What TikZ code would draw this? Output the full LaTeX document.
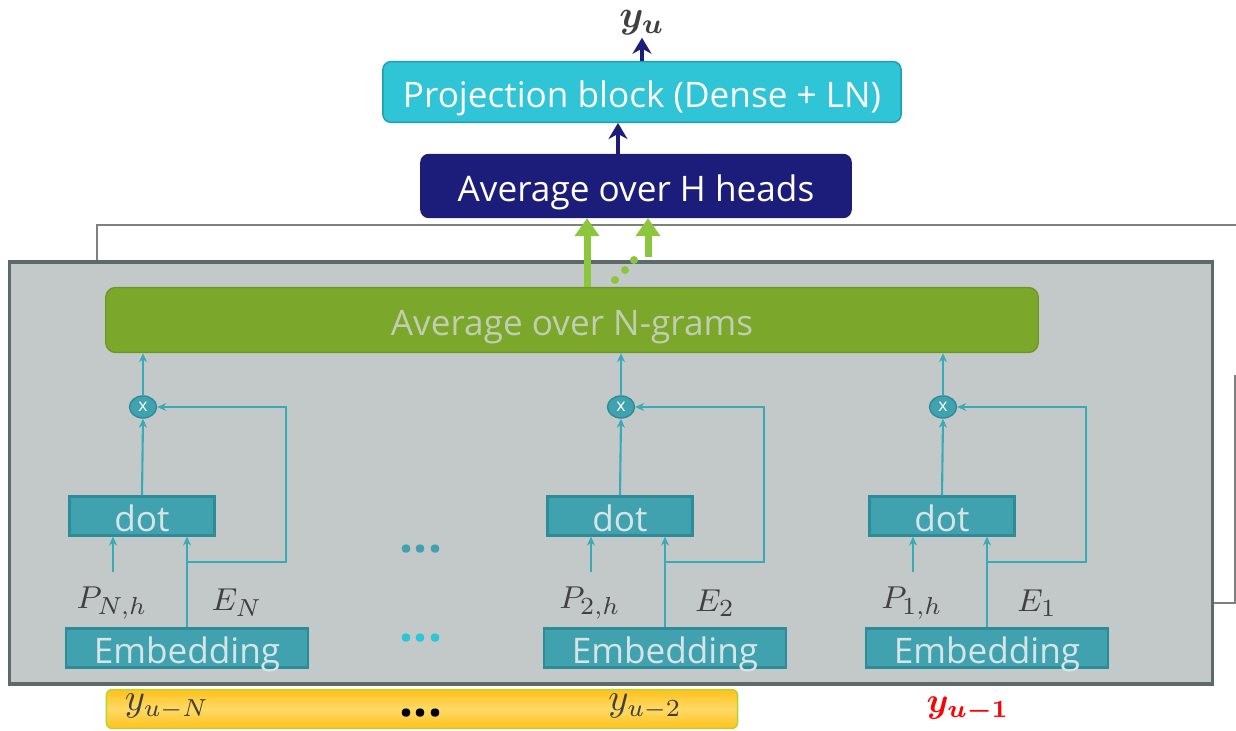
\documentclass[tikz,border=0pt]{standalone}
\usepackage{amsmath}
\usepackage{bm}
\usepackage{fontspec}
\setmainfont{Open Sans}
\usetikzlibrary{arrows.meta, positioning, shapes.geometric}
\definecolor{cPanel}{HTML}{C3C9C9}
\definecolor{cPanelD}{HTML}{5E6A6A}
\definecolor{cTeal}{HTML}{40A2AE}
\definecolor{cTealD}{HTML}{2E8C98}
\definecolor{cTealL}{HTML}{3AAAB8}
\definecolor{cTxt}{HTML}{D6E4E6}
\definecolor{cCyan}{HTML}{2FC4D6}
\definecolor{cCyanD}{HTML}{1E9FB0}
\definecolor{cNavy}{HTML}{1C1C7A}
\definecolor{cOlive}{HTML}{7BA72B}
\definecolor{cOliveT}{HTML}{C2CDB2}
\definecolor{cLime}{HTML}{8CC63C}
\definecolor{cMath}{HTML}{404040}
\definecolor{cGold}{HTML}{FFC21A}
\definecolor{cGoldL}{HTML}{FFD966}

\begin{document}
\begin{tikzpicture}[
  x=0.01cm, y=-0.01cm,
  txt/.style={font=\fontsize{10}{12}\selectfont, text height=9.6pt, text depth=1pt},
  blk/.style={txt, rounded corners=0.08cm, text=white},
  box/.style={txt, draw=cTealD, fill=cTeal, line width=0.6pt, text=cTxt, inner sep=0pt},
  dotbox/.style={box, minimum width=1.45cm, minimum height=0.39cm},
  embbox/.style={box, minimum width=2.41cm, minimum height=0.39cm},
  mul/.style={ellipse, draw=cTealD, fill=cTeal, minimum width=0.27cm, minimum height=0.22cm, inner sep=0pt, text=white, font=\fontsize{5}{5}\selectfont},
  tl/.style={cTealL, line width=0.6pt, -{Stealth[length=0.09cm, width=0.08cm]}},
  garr/.style={cLime, line width=0.07cm, -{Triangle[length=0.18cm, width=0.24cm]}},
  narr/.style={cNavy, line width=0.045cm, -{Stealth[length=0.16cm, width=0.19cm]}},
  lbl/.style={text=cMath, font=\fontsize{9.5}{12}\selectfont}
]
\useasboundingbox (0,0) rectangle (1236,731);

% stacked heads behind
\draw[gray, line width=0.6pt] (97,262) -- (97,225) -- (1236,225);
\draw[gray, line width=0.6pt] (1235,375) -- (1235,603) -- (1212,603);
\node[draw=cPanelD, fill=cPanel, line width=1pt, minimum width=12.02cm, minimum height=4.22cm] (panel) at (611,473) {};

\node[blk, draw=cCyanD, fill=cCyan, minimum width=5.18cm, minimum height=0.6cm] (proj) at (642,92) {Projection block (Dense + LN)};
\node[blk, draw=cNavy, fill=cNavy, minimum width=4.3cm, minimum height=0.63cm] (heads) at (636,186) {Average over H heads};
\node[text=cMath, inner sep=0.5pt, font=\fontsize{11}{12}\selectfont] (yu) at (642,23) {$\bm{y_u}$};
\node[blk, draw=cOlive!90!black, fill=cOlive, rounded corners=0.1cm, minimum width=9.32cm, minimum height=0.65cm, text=cOliveT] (ngram) at (572,320) {Average over N-grams};

\draw[narr] (proj.north) -- (yu.south);
\draw[narr] ([xshift=-0.18cm]heads.north) -- ([xshift=-0.18cm]heads.north |- proj.south);

% heads into the average
\draw[garr] ([xshift=0.15cm]ngram.north) -- ([xshift=0.15cm]ngram.north |- heads.south);
\coordinate (gt) at (648,257);
\draw[garr] (gt) -- (gt |- heads.south);
\foreach \gx/\gy in {615/280, 625/270, 634/260} \fill[cLime] (\gx,\gy) circle (0.04cm);

\foreach \c/\dx/\p in {N/0/{N,h}, 2/478/{2,h}, 1/800/{1,h}} {
  \node[mul] (mul\c) at (143+\dx,407) {x};
  \node[dotbox] (dot\c) at (142+\dx,516) {dot};
  \node[embbox] (emb\c) at (187+\dx,648) {Embedding};
  \node[lbl] (P\c) at (112+\dx,603) {$P_{\p}$};
  \node[lbl] (E\c) at (237+\dx,603) {$E_{\c}$};
  \coordinate (br\c) at (187+\dx,562);
  \coordinate (tn\c) at (286+\dx,407);
  \coordinate (pt\c) at (113+\dx,572);
  \draw[tl] (emb\c.north) -- (emb\c.north |- dot\c.south);
  \draw[tl] (br\c) -| (tn\c) -- (mul\c.east);
  \draw[tl] (pt\c) -- (pt\c |- dot\c.south);
  \draw[tl] (dot\c.north) -- (mul\c.south);
  \draw[tl] (mul\c.north) -- (mul\c.north |- ngram.south);
}
\node[anchor=base, text=cTeal, font=\bfseries\fontsize{14}{14}\selectfont] (gapA) at (421,553) {...};
\node[anchor=base, text=cCyan, font=\bfseries\fontsize{14}{14}\selectfont] (gapB) at (421,642) {...};

% previous labels
\node[draw=cLime!70!yellow, rounded corners=0.06cm, top color=cGold, bottom color=cGold, middle color=cGoldL, minimum width=6.31cm, minimum height=0.39cm] (hist) at (422,709) {};
\node[lbl, font=\fontsize{10.5}{12}\selectfont] (yN) at (167,707) {$y_{u-N}$};
\node[anchor=base, font=\bfseries\fontsize{14}{14}\selectfont] (hdots) at (421,717) {...};
\node[lbl, font=\fontsize{10.5}{12}\selectfont] (y2) at (645,707) {$y_{u-2}$};
\node[text=red, font=\fontsize{10}{12}\selectfont] (y1) at (968,709) {$\bm{y_{u-1}}$};
\end{tikzpicture}
\end{document}
